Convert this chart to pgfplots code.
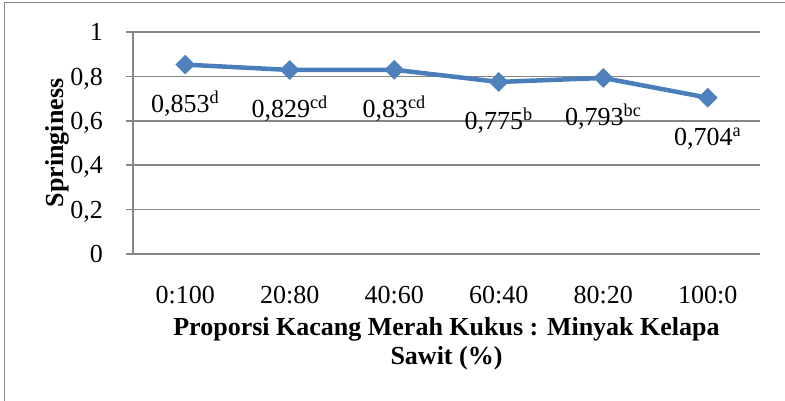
\documentclass[border=0pt]{standalone}
\usepackage{fontspec}
\setmainfont{Liberation Serif}
\usepackage{pgfplots}
\pgfplotsset{compat=1.18}
\definecolor{linec}{RGB}{74,126,187}
\definecolor{markc}{RGB}{79,129,189}
\definecolor{gridc}{RGB}{134,134,134}
\newcommand{\bigf}{\fontsize{26}{29}\selectfont}
\begin{document}
\begin{tikzpicture}[x=1pt,y=1pt]
\useasboundingbox (0,0) rectangle (785,401);
% outer chart frame (only left and top edges are inside the crop)
\draw[gridc, line width=1.5pt] (4.5,-10) -- (4.5,398.3) -- (800,398.3);
\begin{axis}[
    at={(133pt,147pt)}, anchor=south west,
    width=627pt, height=222pt, scale only axis,
    xmin=-0.5, xmax=5.5, ymin=0, ymax=1,
    axis x line=bottom, axis y line=left,
    axis line style={gridc, line width=1.5pt, -},
    xtick={0,1,2,3,4,5},
    xticklabels={0:100,20:80,40:60,60:40,80:20,100:0},
    x tick style={draw=none},
    ytick={0,0.2,0.4,0.6,0.8,1},
    yticklabels={0,{0,2},{0,4},{0,6},{0,8},1},
    y tick style={gridc, line width=1.5pt},
    tick align=outside, major tick length=7pt,
    ymajorgrids, grid style={gridc, line width=1.5pt},
    tick label style={font=\bigf, inner sep=0pt},
    xticklabel style={anchor=base, yshift=-43pt},
    yticklabel style={anchor=base east, xshift=-23pt, yshift=-8.8pt},
    xlabel={Proporsi Kacang Merah Kukus : Minyak Kelapa\\Sawit (\%)},
    xlabel style={at={(axis description cs:0.5,0)}, anchor=north,
        yshift=-63pt, inner sep=0pt, align=center, font=\bfseries\bigf},
    ylabel={Springiness},
    ylabel style={at={(axis description cs:0,0.5)}, anchor=center,
        rotate=0, yshift=76pt, inner sep=0pt, font=\bfseries\bigf},
    clip=false,
]
\addplot[color=linec, line width=4.5pt, mark=square*, mark size=6.7pt,
    mark options={rotate=45, fill=markc, draw=markc, line width=0.5pt},
    nodes near coords, point meta=explicit symbolic,
    nodes near coords style={font=\bigf, anchor=base, yshift=-48pt,
        inner sep=0pt, text=black}]
coordinates {
    (0,0.853) [0,853\textsuperscript{d}]
    (1,0.829) [0,829\textsuperscript{cd}]
    (2,0.83)  [0,83\textsuperscript{cd}]
    (3,0.775) [0,775\textsuperscript{b}]
    (4,0.793) [0,793\textsuperscript{bc}]
    (5,0.704) [0,704\textsuperscript{a}]
};
\end{axis}
\end{tikzpicture}
\end{document}
